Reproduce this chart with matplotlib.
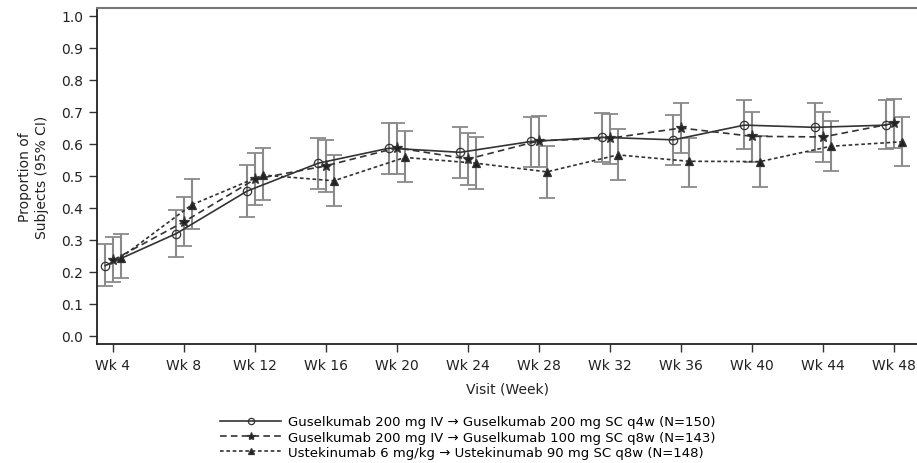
import matplotlib
matplotlib.use("Agg")
import matplotlib.pyplot as plt
import numpy as np

visits = ["Wk 4", "Wk 8", "Wk 12", "Wk 16", "Wk 20", "Wk 24", "Wk 28", "Wk 32", "Wk 36", "Wk 40", "Wk 44", "Wk 48"]

# Guselkumab 200 mg IV -> 200 mg SC q4w
g4_mean = [0.220, 0.320, 0.453, 0.540, 0.587, 0.574, 0.608, 0.621, 0.613, 0.659, 0.652, 0.659]
g4_low  = [0.155, 0.247, 0.373, 0.460, 0.507, 0.493, 0.529, 0.544, 0.535, 0.584, 0.576, 0.584]
g4_high = [0.287, 0.395, 0.533, 0.620, 0.665, 0.652, 0.683, 0.697, 0.692, 0.736, 0.729, 0.736]

# Guselkumab 200 mg IV -> 100 mg SC q8w
g8_mean = [0.237, 0.357, 0.490, 0.532, 0.588, 0.553, 0.610, 0.618, 0.650, 0.624, 0.622, 0.665]
g8_low  = [0.168, 0.280, 0.408, 0.451, 0.506, 0.471, 0.527, 0.537, 0.572, 0.545, 0.544, 0.587]
g8_high = [0.308, 0.435, 0.572, 0.612, 0.667, 0.634, 0.688, 0.695, 0.728, 0.701, 0.701, 0.741]

# Ustekinumab 6 mg/kg -> 90 mg SC q8w
u_mean = [0.245, 0.410, 0.503, 0.485, 0.558, 0.540, 0.513, 0.566, 0.546, 0.545, 0.593, 0.607]
u_low  = [0.180, 0.335, 0.425, 0.406, 0.481, 0.459, 0.432, 0.489, 0.467, 0.467, 0.516, 0.530]
u_high = [0.320, 0.490, 0.588, 0.566, 0.640, 0.621, 0.594, 0.647, 0.620, 0.626, 0.673, 0.685]

labels = ["Guselkumab 200 mg IV \u2192 Guselkumab 200 mg SC q4w (N=150)",
          "Guselkumab 200 mg IV \u2192 Guselkumab 100 mg SC q8w (N=143)",
          "Ustekinumab 6 mg/kg \u2192 Ustekinumab 90 mg SC q8w (N=148)"]

fig = plt.figure(figsize=(9.17, 4.64), dpi=100)
ax = fig.add_axes([97/917, 119/464, 822/917, 336/464])

x = np.arange(len(visits))
series = [
    (g4_mean, g4_low, g4_high, -0.11, "o", "-", "none", 6),
    (g8_mean, g8_low, g8_high, 0.0, "*", (0, (4, 2.5)), "#222222", 8),
    (u_mean, u_low, u_high, 0.11, "^", (0, (2.2, 1.6)), "#222222", 6),
]
handles = []
for (m, lo, hi, off, mk, ls, fc, ms), lab in zip(series, labels):
    m = np.array(m); lo = np.array(lo); hi = np.array(hi)
    ax.errorbar(x + off, m, yerr=[m - lo, hi - m], fmt="none", ecolor="#8a8a8a",
                elinewidth=1.5, capsize=5.5, capthick=1.3, zorder=2)
    h, = ax.plot(x + off, m, linestyle=ls, color="#333333", lw=1.2, marker=mk,
                 markersize=ms, markerfacecolor=fc, markeredgecolor="#333333",
                 markeredgewidth=0.9, zorder=3, label=lab)
    handles.append(h)

ax.set_xlim(-0.225, 11.35)
ax.set_ylim(-0.025, 1.025)
ax.set_xticks(x)
ax.set_xticklabels(visits)
ax.set_yticks(np.arange(0, 1.01, 0.1))
ax.set_yticklabels(["%.1f" % v for v in np.arange(0, 1.01, 0.1)])
ax.tick_params(labelsize=10, length=6, width=1, color="#333333", labelcolor="#222222", pad=4)
for s in ["left", "bottom"]:
    ax.spines[s].set_color("#222222")
    ax.spines[s].set_linewidth(1.3)
ax.spines["top"].set_color("#777777")
ax.spines["top"].set_linewidth(1.5)
ax.spines["right"].set_visible(False)

ax.set_xlabel("Visit (Week)", fontsize=10, color="#222222", labelpad=7)
ax.set_ylabel("Proportion of\nSubjects (95% CI)", fontsize=10, color="#222222", labelpad=9)

fig.legend(handles=handles, loc="upper center", bbox_to_anchor=(0.51, 0.117),
           frameon=False, fontsize=9.5, handlelength=4.6, labelspacing=0.18,
           handletextpad=0.5, borderpad=0, markerscale=0.75)

fig.savefig("out.png", dpi=100)
